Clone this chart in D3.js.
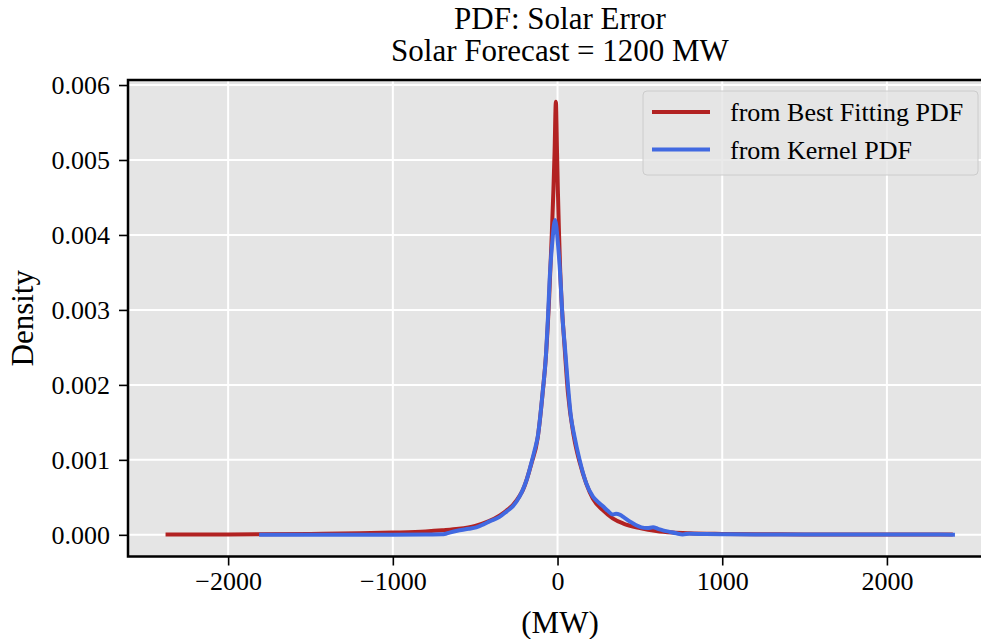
<!DOCTYPE html>
<html>
   <head>
        <meta charset="utf-8">
        <script src="https://d3js.org/d3.v7.min.js"></script>
        <style type="text/css">
            html, body {
                width: 100%;
                height: 100%;
                padding: 0;
                margin: 0;
                background: #fff;
            }
            svg {
                display: block;
                font-family: "Liberation Serif", "Times New Roman", serif;
            }
        </style>
   </head>
    <body>
        <div id='chart'></div>
        <script>
            // best fitting pdf (red)
            var fitX = [-2380, -2000, -1500, -1200, -1000, -800, -700, -600, -500, -420, -350, -300, -270, -230, -210, -160, -120, -90, -70, -50, -35, -25, -18, -10, -3, 2, 8, 15, 25, 40, 63, 100, 134, 175, 215, 275, 335, 400, 500, 600, 700, 800, 1000, 1200, 1500, 2000, 2400];
            var fitY = [0.000004, 0.000006, 0.000012, 0.00002, 0.00003, 0.000045, 0.00006, 0.00008, 0.00012, 0.00018, 0.00026, 0.00034, 0.0004, 0.00052, 0.0006, 0.00094, 0.0013, 0.0019, 0.0024, 0.0032, 0.0040, 0.0046, 0.0051, 0.005778, 0.0051, 0.0046, 0.0041, 0.0036, 0.0031, 0.0026, 0.0019, 0.0013, 0.00097, 0.00068, 0.00048, 0.00033, 0.00022, 0.00015, 0.00009, 0.00005, 0.00003, 0.00002, 0.000012, 0.000008, 0.000006, 0.000004, 0.000003];

            // kernel pdf (blue)
            var kdeX = [-1812, -1500, -1200, -1000, -800, -700, -686, -656, -595, -540, -494, -450, -413, -352, -310, -272, -231, -211, -185, -160, -140, -120, -89, -70, -58, -48, -32, -15, 2, 18, 30, 45, 63, 80, 103, 134, 174, 215, 245, 276, 305, 336, 355, 377, 405, 438, 475, 509, 545, 580, 610, 640, 680, 721, 760, 800, 900, 1000, 1200, 1400, 1600, 1800, 2000, 2200, 2413];
            var kdeY = [0.000001, 0.000001, 0.000002, 0.000002, 0.000004, 0.000007, 0.00001, 0.00003, 0.00006, 0.00008, 0.0001, 0.00014, 0.00018, 0.00024, 0.00031, 0.00038, 0.00051, 0.0006, 0.00075, 0.00095, 0.00112, 0.00131, 0.00193, 0.0024, 0.0029, 0.0034, 0.0039, 0.0042, 0.0039, 0.0034, 0.0029, 0.0025, 0.002, 0.0016, 0.00131, 0.001, 0.00069, 0.00051, 0.00044, 0.00038, 0.00032, 0.00027, 0.00028, 0.00027, 0.00023, 0.00018, 0.00013, 0.0001, 0.00009, 0.0001, 0.00008, 0.00006, 0.00004, 0.00002, 0.000005, 0.000015, 0.00001, 0.000008, 0.000005, 0.000006, 0.000004, 0.000005, 0.000003, 0.000004, 0.000002];

            var xTicks = [-2000, -1000, 0, 1000, 2000];
            var yTicks = [0, 0.001, 0.002, 0.003, 0.004, 0.005, 0.006];
            var seriesNames = ['from Best Fitting PDF', 'from Kernel PDF'];
            var seriesColors = ['#b22222', '#4169e1'];

            var width = 981, height = 639;
            var plotLeft = 128, plotTop = 80, plotRight = 992, plotBottom = 556.5;

            var svg = d3.select('#chart').append('svg')
                .attr('width', width)
                .attr('height', height);

            var x = d3.scaleLinear().domain([-2608, 2638]).range([plotLeft, plotRight]);
            var y = d3.scaleLinear().domain([-0.000289, 0.006067]).range([plotBottom, plotTop]);

            // plot background
            svg.append('rect')
                .attr('x', plotLeft).attr('y', plotTop)
                .attr('width', plotRight - plotLeft).attr('height', plotBottom - plotTop)
                .attr('fill', '#e5e5e5');

            // grid
            svg.append('g').selectAll('line')
                .data(xTicks).enter().append('line')
                .attr('x1', d => x(d)).attr('x2', d => x(d))
                .attr('y1', plotTop).attr('y2', plotBottom)
                .attr('stroke', '#fff').attr('stroke-width', 2);
            svg.append('g').selectAll('line')
                .data(yTicks).enter().append('line')
                .attr('x1', plotLeft).attr('x2', plotRight)
                .attr('y1', d => y(d)).attr('y2', d => y(d))
                .attr('stroke', '#fff').attr('stroke-width', 2);

            // curves
            var line = d3.line()
                .x(d => x(d[0]))
                .y(d => y(d[1]))
                .curve(d3.curveMonotoneX);

            var series = [
                d3.zip(fitX, fitY),
                d3.zip(kdeX, kdeY)
            ];
            svg.append('g').selectAll('path')
                .data(series).enter().append('path')
                .attr('d', line)
                .attr('fill', 'none')
                .attr('stroke', (d, i) => seriesColors[i])
                .attr('stroke-width', 4)
                .attr('stroke-linejoin', 'round');

            // frame
            svg.append('path')
                .attr('d', 'M' + plotRight + ',' + plotTop + 'H' + plotLeft + 'V' + plotBottom + 'H' + plotRight)
                .attr('fill', 'none')
                .attr('stroke', '#000')
                .attr('stroke-width', 2.5);

            // axes
            var xAxis = svg.append('g')
                .attr('transform', 'translate(0,' + plotBottom + ')')
                .call(d3.axisBottom(x).tickValues(xTicks).tickFormat(d3.format('d')).tickSize(9).tickPadding(6));
            var yAxis = svg.append('g')
                .attr('transform', 'translate(' + plotLeft + ',0)')
                .call(d3.axisLeft(y).tickValues(yTicks).tickFormat(d3.format('.3f')).tickSize(9).tickPadding(9));

            [xAxis, yAxis].forEach(function(ax) {
                ax.select('.domain').remove();
                ax.selectAll('.tick line').attr('stroke', '#000').attr('stroke-width', 1.6);
                ax.selectAll('.tick text')
                    .attr('fill', '#000')
                    .style('font-family', '"Liberation Serif", serif')
                    .style('font-size', '26px');
            });

            // titles
            svg.append('text')
                .attr('x', 560).attr('y', 29)
                .attr('text-anchor', 'middle')
                .style('font-size', '31px')
                .text('PDF: Solar Error');
            svg.append('text')
                .attr('x', 560).attr('y', 61)
                .attr('text-anchor', 'middle')
                .style('font-size', '31px')
                .text('Solar Forecast = 1200 MW');

            svg.append('text')
                .attr('x', 560).attr('y', 633)
                .attr('text-anchor', 'middle')
                .style('font-size', '31px')
                .text('(MW)');
            svg.append('text')
                .attr('transform', 'translate(33,' + ((plotTop + plotBottom) / 2) + ') rotate(-90)')
                .attr('text-anchor', 'middle')
                .style('font-size', '31px')
                .text('Density');

            // legend
            var legend = svg.append('g').attr('transform', 'translate(643,91)');
            legend.append('rect')
                .attr('width', 335).attr('height', 84)
                .attr('rx', 4)
                .attr('fill', '#e5e5e5').attr('fill-opacity', 0.8)
                .attr('stroke', '#cccccc').attr('stroke-width', 1);
            var items = legend.selectAll('g.item')
                .data(seriesNames).enter().append('g')
                .attr('class', 'item')
                .attr('transform', (d, i) => 'translate(0,' + (21 + i * 37.5) + ')');
            items.append('line')
                .attr('x1', 9).attr('x2', 67)
                .attr('stroke', (d, i) => seriesColors[i])
                .attr('stroke-width', 4);
            items.append('text')
                .attr('x', 87).attr('y', 9)
                .style('font-size', '26px')
                .text(d => d);
        </script>
    </body>
</html>
